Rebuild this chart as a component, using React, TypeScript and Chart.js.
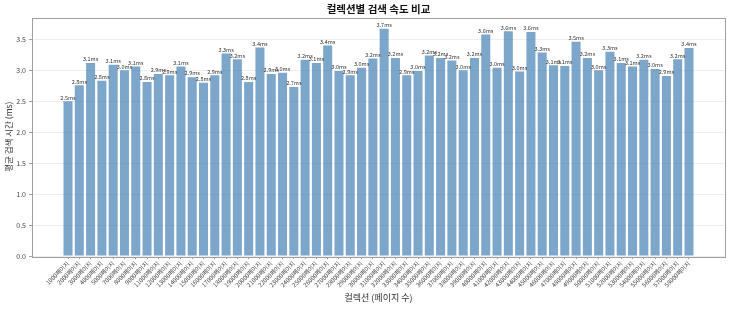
import { useEffect, useRef } from "react";
import { Chart, registerables } from "chart.js";

Chart.register(...registerables);

const chartTitle = "컬렉션별 검색 속도 비교";
const xAxisTitle = "컬렉션 (페이지 수)";
const yAxisTitle = "평균 검색 시간 (ms)";

const categories = [
  "1000페이지", "2000페이지", "3000페이지", "4000페이지", "5000페이지",
  "7000페이지", "8000페이지", "9000페이지", "11000페이지", "12000페이지",
  "13000페이지", "14000페이지", "15000페이지", "16000페이지", "17000페이지",
  "18000페이지", "19000페이지", "20000페이지", "21000페이지", "22000페이지",
  "23000페이지", "24000페이지", "25000페이지", "26000페이지", "27000페이지",
  "28000페이지", "29000페이지", "30000페이지", "31000페이지", "32000페이지",
  "33000페이지", "34000페이지", "35000페이지", "36000페이지", "37000페이지",
  "38000페이지", "39000페이지", "40000페이지", "41000페이지", "42000페이지",
  "43000페이지", "44000페이지", "45000페이지", "46000페이지", "47000페이지",
  "48000페이지", "49000페이지", "50000페이지", "51000페이지", "52000페이지",
  "53000페이지", "54000페이지", "55000페이지", "56000페이지", "57000페이지",
  "58000페이지",
];

const searchTimesMs = [
  2.50, 2.76, 3.12, 2.83, 3.09, 3.00, 3.06, 2.81, 2.94, 2.92,
  3.06, 2.89, 2.80, 2.92, 3.27, 3.18, 2.81, 3.37, 2.94, 2.96,
  2.73, 3.17, 3.12, 3.40, 2.99, 2.92, 3.04, 3.19, 3.67, 3.20,
  2.92, 2.99, 3.24, 3.20, 3.16, 3.00, 3.20, 3.58, 3.04, 3.63,
  2.98, 3.62, 3.29, 3.08, 3.07, 3.46, 3.20, 3.00, 3.30, 3.12,
  3.06, 3.17, 3.02, 2.91, 3.18, 3.36,
];

const yTickValues = [0, 0.5, 1.0, 1.5, 2.0, 2.5, 3.0, 3.5];

const FONT = "'Noto Sans CJK KR', 'Noto Sans', sans-serif";

export default function App() {
  const canvasRef = useRef<HTMLCanvasElement | null>(null);

  useEffect(() => {
    if (!canvasRef.current) return;
    const n = searchTimesMs.length;
    const barHalf = 0.4;
    const span = (n - 1 + barHalf) - (-barHalf);
    const xMin = -barHalf - span * 0.05;
    const xMax = n - 1 + barHalf + span * 0.05;
    const yMax = Math.max(...searchTimesMs) * 1.05;

    const framePlugin = {
      id: "frame",
      beforeDraw(chart: any) {
        const { ctx, width, height } = chart;
        ctx.save();
        ctx.fillStyle = "#ffffff";
        ctx.fillRect(0, 0, width, height);
        ctx.restore();
      },
      afterDatasetsDraw(chart: any) {
        const { ctx, chartArea } = chart;
        const meta = chart.getDatasetMeta(0);
        ctx.save();
        ctx.font = `5.5px ${FONT}`;
        ctx.fillStyle = "#333333";
        ctx.textAlign = "center";
        ctx.textBaseline = "bottom";
        meta.data.forEach((bar: any, i: number) => {
          ctx.fillText(`${searchTimesMs[i].toFixed(1)}ms`, bar.x, bar.y - 1);
        });
        ctx.strokeStyle = "#a0a0a0";
        ctx.lineWidth = 1;
        ctx.strokeRect(
          Math.round(chartArea.left) + 0.5,
          Math.round(chartArea.top) + 0.5,
          Math.round(chartArea.right - chartArea.left),
          Math.round(chartArea.bottom - chartArea.top)
        );
        ctx.font = `bold 10.5px ${FONT}`;
        ctx.fillStyle = "#111111";
        ctx.textBaseline = "middle";
        ctx.fillText(chartTitle, (chartArea.left + chartArea.right) / 2, 9);
        ctx.restore();
      },
    };

    const chart = new Chart(canvasRef.current, {
      type: "bar",
      data: {
        datasets: [
          {
            data: searchTimesMs.map((v, i) => ({ x: i, y: v })),
            backgroundColor: "rgba(70,130,180,0.7)",
            borderWidth: 0,
            categoryPercentage: 1,
            barPercentage: 0.8,
          },
        ],
      },
      options: {
        animation: false,
        responsive: false,
        maintainAspectRatio: false,
        layout: { padding: { top: 17.5, right: 6, left: 0, bottom: 0 } },
        plugins: {
          legend: { display: false },
          tooltip: { enabled: false },
          title: { display: false },
        },
        scales: {
          x: {
            type: "linear",
            offset: false,
            min: xMin,
            max: xMax,
            afterBuildTicks: (scale: any) => {
              scale.ticks = categories.map((_, i) => ({ value: i }));
            },
            afterFit: (scale: any) => {
              scale.height = 53;
            },
            grid: {
              display: true,
              offset: false,
              drawOnChartArea: false,
              tickLength: 3,
              tickColor: "#a0a0a0",
            },
            border: { display: false },
            ticks: {
              autoSkip: false,
              minRotation: 45,
              maxRotation: 45,
              padding: 1,
              color: "#444444",
              font: { size: 6, family: FONT },
              callback: (value: any) => categories[Math.round(Number(value))] ?? "",
            },
            title: {
              display: true,
              text: xAxisTitle,
              color: "#333333",
              font: { size: 9, family: FONT },
              padding: { top: 0, bottom: 6 },
            },
          },
          y: {
            type: "linear",
            min: 0,
            max: yMax,
            afterBuildTicks: (scale: any) => {
              scale.ticks = yTickValues.map((v) => ({ value: v }));
            },
            afterFit: (scale: any) => {
              scale.width = 32;
            },
            grid: {
              color: "#eeeeee",
              tickLength: 3,
              tickColor: "#a0a0a0",
            },
            border: { display: false },
            ticks: {
              padding: 3,
              color: "#444444",
              font: { size: 7, family: FONT },
              callback: (value: any) => Number(value).toFixed(1),
            },
            title: {
              display: true,
              text: yAxisTitle,
              color: "#333333",
              font: { size: 8.5, family: FONT },
              padding: { top: 4, bottom: 0 },
            },
          },
        },
      },
      plugins: [framePlugin],
    } as any);

    return () => {
      chart.destroy();
    };
  }, []);

  return (
    <div style={{ position: "fixed", left: 0, top: 0, width: 731, height: 309, background: "#fff" }}>
      <canvas ref={canvasRef} width={731} height={309} style={{ width: 731, height: 309, display: "block" }} />
    </div>
  );
}
